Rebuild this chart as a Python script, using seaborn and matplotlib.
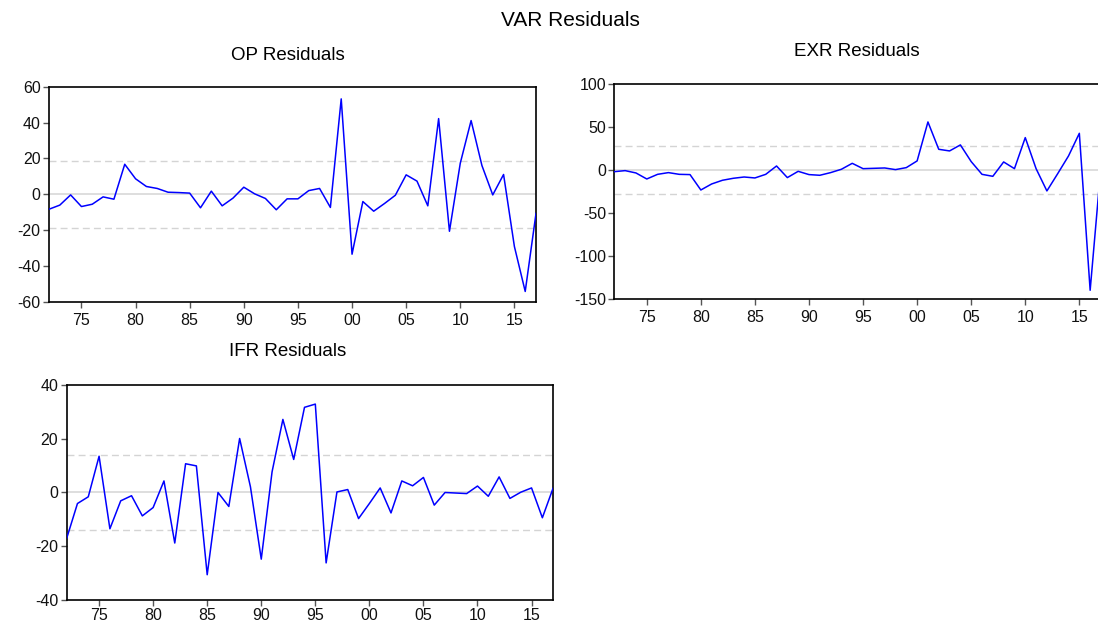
import numpy as np
import pandas as pd
import seaborn as sns
import matplotlib.pyplot as plt

# residuals, 1972-2017
years = list(range(1972, 2018))

op_resid = [-8.4, -6.1, -0.4, -6.9, -5.6, -1.5, -2.8, 16.7, 8.6, 4.3,
            3.2, 1.1, 0.9, 0.6, -7.6, 1.7, -6.5, -2.2, 3.9, 0.2,
            -2.4, -8.7, -2.6, -2.6, 2.0, 3.2, -7.4, 53.2, -33.5, -4.1,
            -9.5, -5.2, -0.6, 10.8, 7.3, -6.5, 42.2, -20.7, 17.3, 41.1,
            16.0, -0.4, 11.0, -29.2, -54.3, -10.6]

exr_resid = [-1.6, -0.4, -3.1, -10.1, -4.7, -2.7, -4.7, -5.0, -22.9, -15.9,
             -11.6, -9.3, -7.8, -8.9, -4.7, 5.0, -8.5, -1.2, -5.0, -5.8,
             -2.7, 1.2, 8.1, 1.9, 2.3, 2.7, 0.8, 3.1, 10.9, 56.2,
             24.4, 22.5, 29.5, 10.1, -4.7, -7.0, 9.7, 1.9, 38.0, 1.9,
             -24.0, -3.9, 16.7, 43.0, -139.5, 5.0]

ifr_resid = [-17.1, -4.1, -1.6, 13.5, -13.5, -3.1, -1.2, -8.7, -5.6, 4.3,
             -18.8, 10.7, 9.9, -30.6, 0.0, -5.2, 20.1, 2.1, -24.8, 7.7,
             27.2, 12.3, 31.7, 32.9, -26.2, 0.2, 1.1, -9.7, -4.1, 1.7,
             -7.6, 4.3, 2.5, 5.6, -4.7, 0.0, -0.2, -0.4, 2.4, -1.4,
             5.8, -2.2, 0.1, 1.7, -9.4, 1.7]

# +/- 2 S.E. bands
op_band = 18.7
exr_band = 28.0
ifr_band = 13.8

op_yticks = [-60, -40, -20, 0, 20, 40, 60]
exr_yticks = [-150, -100, -50, 0, 50, 100]
ifr_yticks = [-40, -20, 0, 20, 40]
xtick_years = [1975, 1980, 1985, 1990, 1995, 2000, 2005, 2010, 2015]

sns.set_style("white")
plt.rcParams['font.family'] = ['Liberation Sans', 'DejaVu Sans']
plt.rcParams['text.color'] = 'black'

fig = plt.figure(figsize=(10.98, 6.22), dpi=100)


def panel(rect, values, band, yticks, xpad):
    ax = fig.add_axes(rect)
    df = pd.DataFrame({"year": years, "resid": values})
    ax.axhline(0, color="#d4d4d4", lw=1.1, zorder=1)
    ax.axhline(band, color="#d4d4d4", lw=1.0, ls=(0, (5, 3)), zorder=1)
    ax.axhline(-band, color="#d4d4d4", lw=1.0, ls=(0, (5, 3)), zorder=1)
    sns.lineplot(data=df, x="year", y="resid", ax=ax, color="#0000ff",
                 lw=1.1, zorder=3)
    ax.set_xlim(years[0], years[-1])
    ax.set_ylim(yticks[0], yticks[-1])
    ax.set_yticks(yticks)
    ax.set_yticklabels([str(t) for t in yticks], fontsize=11.5)
    ax.set_xticks(xtick_years)
    ax.set_xticklabels([f"{y % 100:02d}" for y in xtick_years], fontsize=11.5)
    ax.set_xlabel("")
    ax.set_ylabel("")
    ax.tick_params(bottom=True, left=True, direction="out", length=4,
                   width=1, color="#555555", labelcolor="#111111")
    ax.tick_params(axis="x", pad=xpad)
    ax.tick_params(axis="y", pad=2)
    for s in ax.spines.values():
        s.set_color("black")
        s.set_linewidth(1.2)
    return ax


panel([0.0446, 0.515, 0.4436, 0.3456], op_resid, op_band, op_yticks, 4)
panel([0.5595, 0.5188, 0.4432, 0.3457], exr_resid, exr_band, exr_yticks, 4)
panel([0.0607, 0.0354, 0.4431, 0.3456], ifr_resid, ifr_band, ifr_yticks, 1.5)

fig.text(570 / 1098, 1 - 20 / 622, "VAR Residuals", ha="center", va="center", fontsize=15)
fig.text(288 / 1098, 1 - 55 / 622, "OP Residuals", ha="center", va="center", fontsize=13.5)
fig.text(857 / 1098, 1 - 52 / 622, "EXR Residuals", ha="center", va="center", fontsize=13.5)
fig.text(288 / 1098, 1 - 352 / 622, "IFR Residuals", ha="center", va="center", fontsize=13.5)

fig.savefig("out.png", dpi=100)
